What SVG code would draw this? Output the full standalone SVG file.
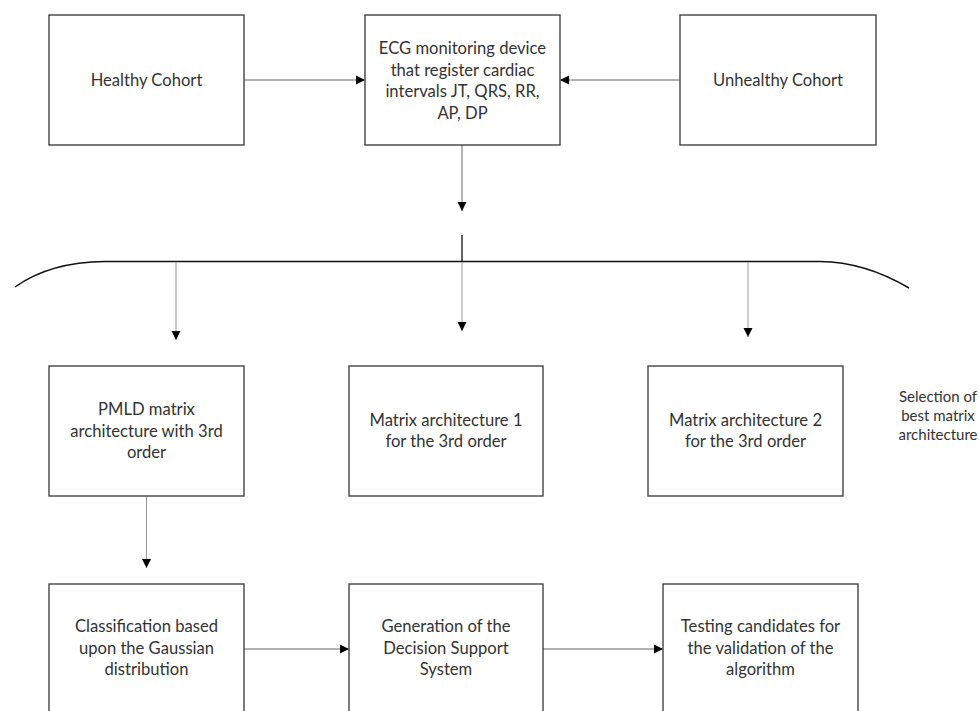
<svg xmlns="http://www.w3.org/2000/svg" width="979" height="711" viewBox="0 0 979 711">
<defs>
<marker id="ah" markerUnits="userSpaceOnUse" markerWidth="10" markerHeight="10" refX="9" refY="5" orient="auto">
<path d="M0,0.5 L9,5 L0,9.5 Z" fill="#000"/>
</marker>
<style>
.box{fill:#fff;stroke:#444;stroke-width:1.4}
.t{font-family:Lato,"Open Sans","Liberation Sans",sans-serif;font-size:16.6px;fill:#333;text-anchor:middle}
.s{font-family:Lato,"Open Sans","Liberation Sans",sans-serif;font-size:15px;fill:#333;text-anchor:middle}
.c{fill:none;stroke:#666;stroke-width:1;marker-end:url(#ah)}
.cl{fill:none;stroke:#999;stroke-width:1;marker-end:url(#ah)}
</style>
</defs>
<rect width="979" height="711" fill="#fff"/>
<g id="connectors">
<line class="c" x1="244" y1="80" x2="365" y2="80"/>
<line class="c" x1="680" y1="80" x2="560" y2="80"/>
<line class="c" x1="462" y1="145" x2="462" y2="211"/>
<path d="M15,287 Q50,262 105,261.5 L820,261.5 Q865,262 909,288" fill="none" stroke="#111" stroke-width="1.5"/>
<line x1="462" y1="235" x2="462" y2="262" stroke="#111" stroke-width="1.3"/>
<line class="cl" x1="176" y1="262" x2="176" y2="340"/>
<line class="cl" x1="462" y1="262" x2="462" y2="331"/>
<line class="cl" x1="748" y1="262" x2="748" y2="337"/>
<line class="cl" x1="146.5" y1="496" x2="146.5" y2="568"/>
<line class="c" x1="244" y1="649" x2="349" y2="649"/>
<line class="c" x1="543" y1="649" x2="663" y2="649"/>
</g>
<g id="healthy">
<rect class="box" x="49" y="15" width="195" height="130"/>
<text class="t" x="146.5" y="86">Healthy Cohort</text>
</g>
<g id="ecg">
<rect class="box" x="365" y="15" width="195" height="130"/>
<text class="t" x="462.5" y="54">ECG monitoring device</text>
<text class="t" x="462.5" y="76">that register cardiac</text>
<text class="t" x="462.5" y="97">intervals JT, QRS, RR,</text>
<text class="t" x="462.5" y="119">AP, DP</text>
</g>
<g id="unhealthy">
<rect class="box" x="680" y="15" width="196" height="130"/>
<text class="t" x="778" y="86">Unhealthy Cohort</text>
</g>
<g id="pmld">
<rect class="box" x="49" y="366" width="195" height="130"/>
<text class="t" x="146.5" y="415">PMLD matrix</text>
<text class="t" x="146.5" y="437">architecture with 3rd</text>
<text class="t" x="146.5" y="458">order</text>
</g>
<g id="matrix1">
<rect class="box" x="349" y="366" width="194" height="130"/>
<text class="t" x="446" y="426">Matrix architecture 1</text>
<text class="t" x="446" y="447">for the 3rd order</text>
</g>
<g id="matrix2">
<rect class="box" x="648" y="366" width="195" height="130"/>
<text class="t" x="745.5" y="426">Matrix architecture 2</text>
<text class="t" x="745.5" y="447">for the 3rd order</text>
</g>
<g id="selection">
<text class="s" x="938" y="402">Selection of</text>
<text class="s" x="938" y="421">best matrix</text>
<text class="s" x="938" y="440">architecture</text>
</g>
<g id="classification">
<rect class="box" x="49" y="584" width="195" height="140"/>
<text class="t" x="146.5" y="632">Classification based</text>
<text class="t" x="146.5" y="654">upon the Gaussian</text>
<text class="t" x="146.5" y="675">distribution</text>
</g>
<g id="generation">
<rect class="box" x="349" y="584" width="194" height="140"/>
<text class="t" x="446" y="632">Generation of the</text>
<text class="t" x="446" y="654">Decision Support</text>
<text class="t" x="446" y="675">System</text>
</g>
<g id="testing">
<rect class="box" x="663" y="584" width="195" height="140"/>
<text class="t" x="760.5" y="632">Testing candidates for</text>
<text class="t" x="760.5" y="654">the validation of the</text>
<text class="t" x="760.5" y="675">algorithm</text>
</g>
</svg>
